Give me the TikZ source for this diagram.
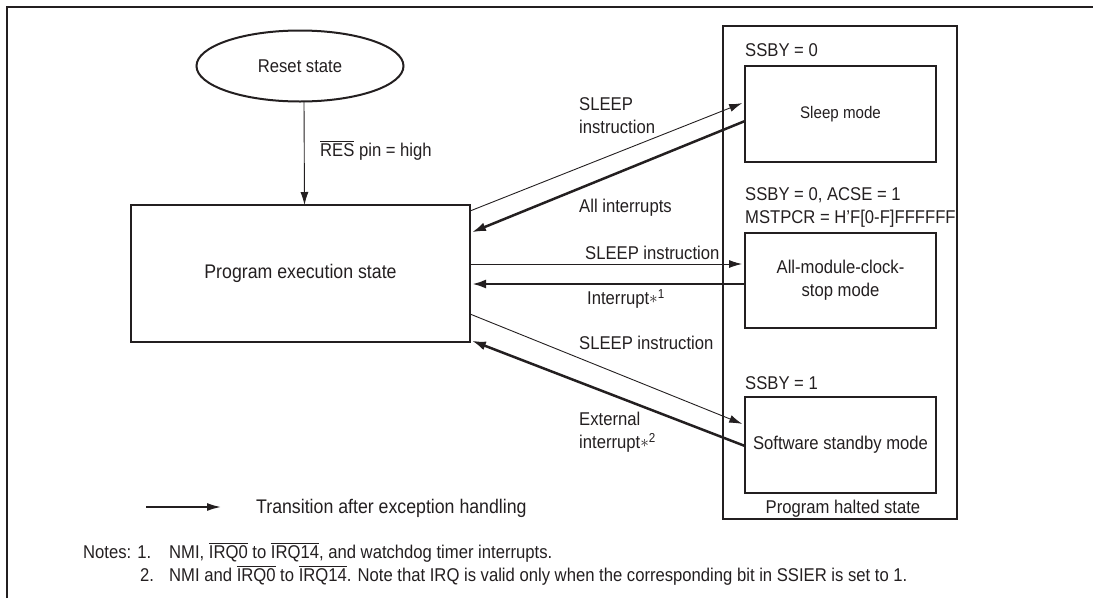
\documentclass[tikz,border=0pt]{standalone}
\usepackage{fontspec}
\setmainfont{Liberation Sans}[FakeStretch=0.9]
\usetikzlibrary{shapes.geometric,arrows.meta,calc}
\definecolor{ink}{RGB}{35,31,32}
\newcommand\ovl[1]{\leavevmode\vbox{\hrule height 0.9pt\kern1.6pt\hbox{#1}}}
\newcommand\fs{\fontsize{18.5}{23}\selectfont}
\newcommand\fsbig{\fontsize{19.7}{23}\selectfont}
\newcommand\astr[1]{{\fontsize{16}{16}\selectfont\raisebox{0.1em}{$\ast$}}\textsuperscript{#1}}
\tikzset{
  x=1pt, y=1pt,
  every node/.style={text=ink, font=\fs},
  lbl/.style={inner sep=0pt, anchor=base west},
  box/.style={draw=ink, line width=2pt, inner sep=0pt, outer sep=0pt, align=center},
  thinarr/.style={draw=ink, line width=0.9pt, -{Latex[length=13pt,width=8pt]}, shorten >=3pt},
  thickarr/.style={draw=ink, line width=2.5pt, -{Latex[length=14pt,width=9pt]}, shorten >=2pt},
}
\begin{document}
\begin{tikzpicture}
\useasboundingbox (0,0) rectangle (1093,-598);
% outer frame
\draw[ink, line width=2.6pt] (7,-598) -- (7,-7) -- (1093,-7);

% nodes
\node[box, ellipse, minimum width=207pt, minimum height=71pt] (reset) at (300,-66) {Reset state};
\node[box, minimum width=339pt, minimum height=137pt, font=\fsbig] (prog) at (300.5,-273.5) {Program execution state};
\node[box, minimum width=234pt, minimum height=493pt] (halted) at (840,-272.5) {};
\node[box, minimum width=191pt, minimum height=96pt, font=\fontsize{16.8}{21}\selectfont] (sleep) at (840.5,-114) {Sleep mode};
\node[box, minimum width=191pt, minimum height=95pt] (allmod) at (840.5,-280.5) {All-module-clock-\\stop mode};
\node[box, minimum width=191pt, minimum height=96pt] (sw) at (840.5,-445) {Software standby mode};

% condition labels
\node[lbl] (c1) at (745,-56.6) {SSBY = 0};
\node[lbl, align=left] (c2) at (745,-223.6) {SSBY = 0, ACSE = 1\\MSTPCR = H'F[0-F]FFFFFF};
\node[lbl] (c3) at (745,-389.6) {SSBY = 1};
\node[inner sep=0pt, anchor=base] (hl) at (843,-513.6) {Program halted state};

% reset arrow
\draw[thinarr, shorten >=0pt] ([xshift=4pt]reset.south) -- ([xshift=4pt]prog.north);
\node[lbl] (reslbl) at (320,-156.6) {\ovl{RES} pin = high};

% transitions
\draw[thinarr] ([yshift=62.5pt]prog.east) -- ([yshift=12pt]sleep.west);
\draw[thickarr] ([yshift=-7pt]sleep.west) -- ([yshift=40.5pt]prog.east);
\coordinate (h1) at ([yshift=9.5pt]prog.east);
\coordinate (h2) at ([yshift=-10.5pt]prog.east);
\draw[thinarr] (h1) -- (h1 -| allmod.west);
\draw[thickarr] (h2 -| allmod.west) -- (h2);
\draw[thinarr] ([yshift=-40.5pt]prog.east) -- ([yshift=20pt]sw.west);
\draw[thickarr] ([yshift=-1pt]sw.west) -- ([yshift=2pt]prog.south east);

% transition labels
\node[lbl, align=left] (t1) at (579,-133.6) {SLEEP\\instruction};
\node[lbl] (t2) at (579,-212.6) {All interrupts};
\node[lbl] (t3) at (585,-259.6) {SLEEP instruction};
\node[lbl] (t4) at (587,-304.6) {Interrupt\astr{1}};
\node[lbl] (t5) at (579,-349.6) {SLEEP instruction};
\node[lbl, align=left] (t6) at (579,-448.6) {External\\interrupt\astr{2}};

% legend
\coordinate (la) at (146,-507);
\coordinate (lb) at (222,-507);
\draw[draw=ink, line width=2.5pt, -{Latex[length=15pt,width=8pt]}] (la) -- (lb);
\node[lbl, font=\fsbig] (legend) at (256,-513.6) {Transition after exception handling};

% notes
\node[lbl] (n0) at (83,-558.6) {Notes: 1.};
\node[lbl] (n1) at (169,-558.6) {NMI, \ovl{IRQ0} to \ovl{IRQ14}, and watchdog timer interrupts.};
\node[lbl] (n2a) at (140,-581.6) {2.};
\node[lbl] (n2) at (169,-581.6) {NMI and \ovl{IRQ0} to \ovl{IRQ14}. Note that IRQ is valid only when the corresponding bit in SSIER is set to 1.};
\end{tikzpicture}
\end{document}
